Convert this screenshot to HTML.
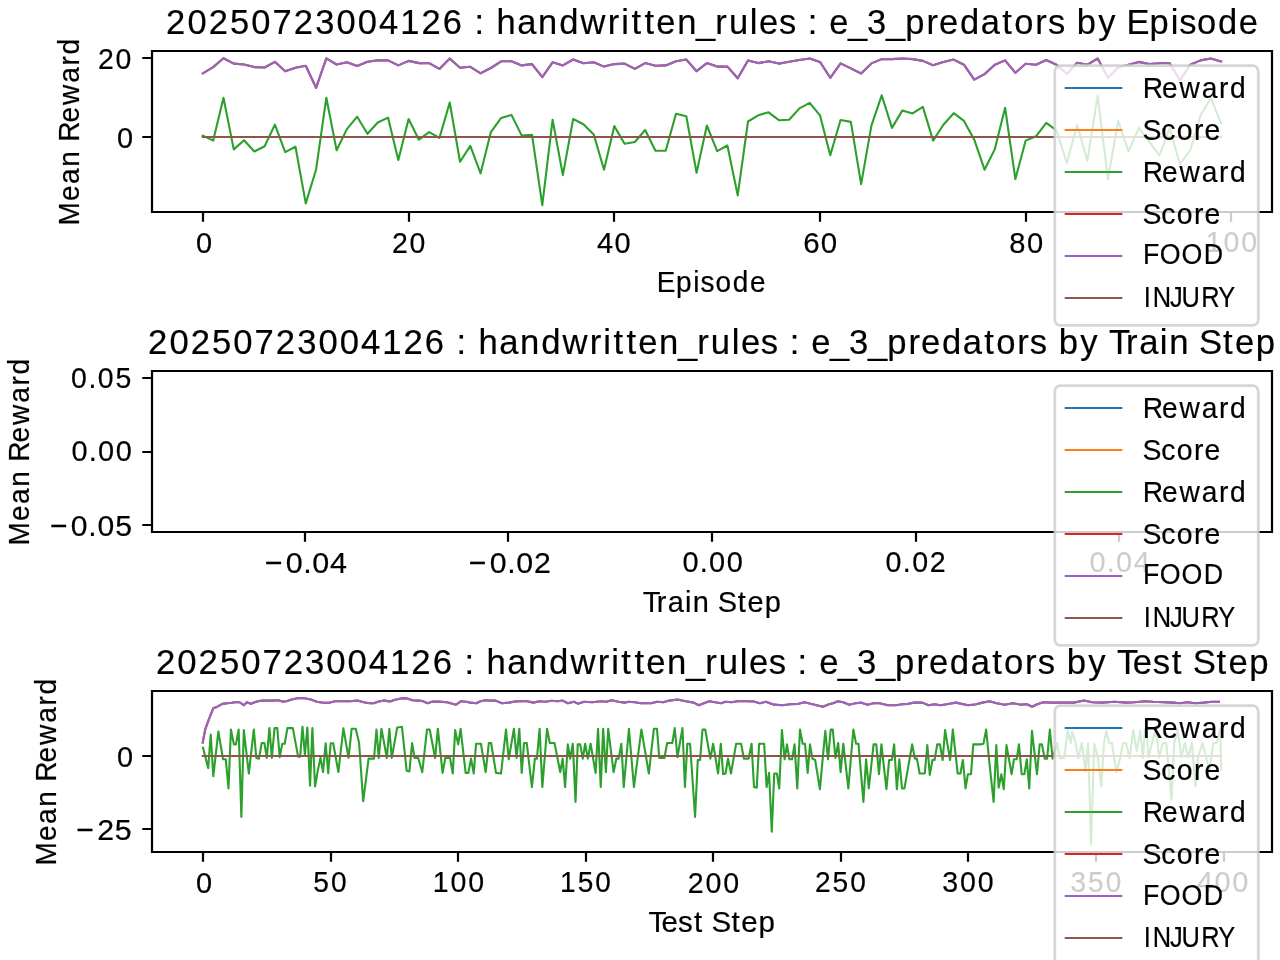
<!DOCTYPE html><html><head><meta charset="utf-8"><style>html,body{margin:0;padding:0;background:#fff;overflow:hidden}svg{display:block;will-change:transform}text{font-family:"Liberation Sans",sans-serif;fill:#000;stroke:#000;stroke-width:0.2px;stroke-linejoin:round}</style></head><body>
<svg width="1280" height="960" viewBox="0 0 1280 960">
<rect width="1280" height="960" fill="#fff"/>
<defs><clipPath id="c0"><rect x="152" y="51" width="1120" height="161"/></clipPath><clipPath id="c1"><rect x="152" y="371" width="1120" height="161"/></clipPath><clipPath id="c2"><rect x="152" y="691" width="1120" height="161"/></clipPath></defs>
<g>
<g clip-path="url(#c0)" fill="none" stroke-width="2.1" stroke-linejoin="round" stroke-linecap="square">
<polyline stroke="#1f77b4" points="202.91,137 1221.09,137"/>
<polyline stroke="#ff7f0e" points="202.91,137 1221.09,137"/>
<polyline stroke="#2ca02c" points="202.91,135.6 213.19,140.6 223.48,97.7 233.76,149.4 244.05,140.2 254.33,151.5 264.62,146.2 274.9,124.6 285.19,152.1 295.47,146.8 305.76,203.4 316.04,169.8 326.33,97.7 336.61,150.3 346.89,129.1 357.18,116.7 367.46,133.8 377.75,122.5 388.03,117.6 398.32,160 408.6,119 418.89,139.7 429.17,132.1 439.46,137.9 449.74,102.5 460.03,161.8 470.31,145.9 480.6,173.3 490.88,132.1 501.16,117.9 511.45,114.9 521.73,135.6 532.02,134.9 542.3,205.2 552.59,119.7 562.87,175.1 573.16,119 583.44,124.3 593.73,134.4 604.01,169.8 614.3,126.1 624.58,143.8 634.87,142 645.15,130 655.43,150.8 665.72,150.8 676,113.7 686.29,116.2 696.57,172.8 706.86,125.5 717.14,151.2 727.43,145.5 737.71,195.4 748,121.5 758.28,115.3 768.57,112.3 778.85,120.2 789.13,119.7 799.42,108.4 809.7,102.8 819.99,115.3 830.27,155.3 840.56,120 850.84,121.9 861.13,184.1 871.41,125.6 881.7,95.3 891.98,127.9 902.27,110.6 912.55,113.4 922.84,106.9 933.12,140.6 943.4,124.7 953.69,113.2 963.97,120.9 974.26,139.7 984.54,169.7 994.83,149.1 1005.11,107.8 1015.4,179.1 1025.68,140.6 1035.97,136.3 1046.25,122.8 1056.54,130.3 1066.82,163.1 1077.11,124.7 1087.39,160.9 1097.67,95.3 1107.96,179.1 1118.24,120.9 1128.53,151.5 1138.81,127.8 1149.1,141.6 1159.38,155.5 1169.67,128.5 1179.95,164.2 1190.24,150.4 1200.52,115.4 1210.81,98.2 1221.09,123.4"/>
<polyline stroke="#d62728" points="202.91,73.3 213.19,67.1 223.48,58.3 233.76,63.6 244.05,64.5 254.33,67.1 264.62,67.5 274.9,61.8 285.19,71.2 295.47,67.7 305.76,65.7 316.04,87.8 326.33,58.3 336.61,64.5 346.89,62.2 357.18,65.9 367.46,61.8 377.75,60.4 388.03,60.4 398.32,65.4 408.6,60.9 418.89,63.1 429.17,63.2 439.46,68.9 449.74,58.6 460.03,67.7 470.31,66.8 480.6,73.3 490.88,68 501.16,61.3 511.45,61.3 521.73,65.4 532.02,64.1 542.3,77.2 552.59,62.3 562.87,65.4 573.16,59.5 583.44,63.2 593.73,62.3 604.01,66.6 614.3,64.1 624.58,63.6 634.87,68.9 645.15,63.1 655.43,65.7 665.72,65.4 676,61.3 686.29,59.5 696.57,71.2 706.86,63.1 717.14,66.6 727.43,66.6 737.71,78.3 748,60.4 758.28,63.1 768.57,61.3 778.85,63.6 789.13,61.8 799.42,60 809.7,58.5 819.99,61.9 830.27,77.8 840.56,63.4 850.84,68.4 861.13,73.5 871.41,63.4 881.7,59.1 891.98,59.1 902.27,58.5 912.55,59.1 922.84,60.9 933.12,65.3 943.4,61.9 953.69,59.6 963.97,64.7 974.26,79.7 984.54,74.1 994.83,64.7 1005.11,60.4 1015.4,72.8 1025.68,63.8 1035.97,64.7 1046.25,60 1056.54,64.7 1066.82,74.1 1077.11,62.8 1087.39,64.7 1097.67,58.5 1107.96,77.8 1118.24,67.5 1128.53,64.7 1138.81,61.9 1149.1,64.1 1159.38,63.2 1169.67,63.2 1179.95,80.3 1190.24,64.7 1200.52,60.4 1210.81,58.5 1221.09,61.5"/>
<polyline stroke="#9467bd" points="202.91,73.3 213.19,67.1 223.48,58.3 233.76,63.6 244.05,64.5 254.33,67.1 264.62,67.5 274.9,61.8 285.19,71.2 295.47,67.7 305.76,65.7 316.04,87.8 326.33,58.3 336.61,64.5 346.89,62.2 357.18,65.9 367.46,61.8 377.75,60.4 388.03,60.4 398.32,65.4 408.6,60.9 418.89,63.1 429.17,63.2 439.46,68.9 449.74,58.6 460.03,67.7 470.31,66.8 480.6,73.3 490.88,68 501.16,61.3 511.45,61.3 521.73,65.4 532.02,64.1 542.3,77.2 552.59,62.3 562.87,65.4 573.16,59.5 583.44,63.2 593.73,62.3 604.01,66.6 614.3,64.1 624.58,63.6 634.87,68.9 645.15,63.1 655.43,65.7 665.72,65.4 676,61.3 686.29,59.5 696.57,71.2 706.86,63.1 717.14,66.6 727.43,66.6 737.71,78.3 748,60.4 758.28,63.1 768.57,61.3 778.85,63.6 789.13,61.8 799.42,60 809.7,58.5 819.99,61.9 830.27,77.8 840.56,63.4 850.84,68.4 861.13,73.5 871.41,63.4 881.7,59.1 891.98,59.1 902.27,58.5 912.55,59.1 922.84,60.9 933.12,65.3 943.4,61.9 953.69,59.6 963.97,64.7 974.26,79.7 984.54,74.1 994.83,64.7 1005.11,60.4 1015.4,72.8 1025.68,63.8 1035.97,64.7 1046.25,60 1056.54,64.7 1066.82,74.1 1077.11,62.8 1087.39,64.7 1097.67,58.5 1107.96,77.8 1118.24,67.5 1128.53,64.7 1138.81,61.9 1149.1,64.1 1159.38,63.2 1169.67,63.2 1179.95,80.3 1190.24,64.7 1200.52,60.4 1210.81,58.5 1221.09,61.5"/>
<polyline stroke="#8c564b" points="202.91,137 1221.09,137"/>
</g>
<path d="M152 51V212M1272 51V212M152 51H1272M152 212H1272" stroke="#000" stroke-width="2.22" stroke-linecap="square" fill="none"/>
<path d="M203 212v9.72M409 212v9.72M614 212v9.72M820 212v9.72M1026 212v9.72M1231 212v9.72M152 137h-9.72M152 58h-9.72" stroke="#000" stroke-width="2.22" fill="none"/>
<text transform="scale(0.9592,1)" x="204.29" y="253.12" font-size="30.2">0</text>
<text transform="scale(0.9419,1)" x="416.08 434.79" y="253.12" font-size="30.2">20</text>
<text transform="scale(0.9595,1)" x="622.1 640.47" y="253.12" font-size="30.2">40</text>
<text transform="scale(0.9757,1)" x="823.23 841.3" y="253.12" font-size="30.2">60</text>
<text transform="scale(0.9643,1)" x="1046.72 1064.99" y="253.12" font-size="30.2">80</text>
<text transform="scale(0.9453,1)" x="1275.6 1294.25 1313.03" y="252.12" font-size="30.2">100</text>
<text transform="scale(0.9592,1)" x="121.92" y="148.12" font-size="30.2">0</text>
<text transform="scale(0.9419,1)" x="103.93 122.65" y="69.12" font-size="30.2">20</text>
<text transform="scale(0.9385,1)" x="699.76 720.24 738.71 746.43 762.38 780.71 799.2" y="291.6" font-size="29.8">Episode</text>
<text transform="translate(78.8,223) rotate(-90) scale(0.9395,1)" x="-2.56 23.45 41.51 59.91 78.15 86.55 107 125.62 149.28 167.71 179.4" y="0" font-size="29.8">Mean Reward</text>
<text transform="scale(0.9687,1)" x="171.44 193.51 215.45 237.51 259.45 281.39 303.33 325.39 347.33 369.27 391.2 413.14 435.08 457.14 478.56 489.85 501.14 512.59 534.04 555.43 577.26 599.39 627.45 641.32 651.85 665.27 677.57 699.06 718.56 738.43 752.48 774.11 783.52 804.06 822.46 833.75 845.04 856.17 875.35 895.11 914.71 934.45 956.51 969.47 990.97 1012.53 1034.72 1046.96 1068.65 1081.76 1100.16 1111.62 1133.82 1153.45 1162.89 1186.72 1208.47 1217.25 1235.75 1257.31 1278.91" y="33.83" font-size="35.6">20250723004126 : handwritten_rules : e_3_predators by Episode</text>
<rect x="1054.8" y="65.65" width="203.5" height="259.65" rx="5.56" ry="5.56" fill="#fff" fill-opacity="0.8" stroke="#ccc" stroke-opacity="0.8" stroke-width="2.778"/>
<path d="M1065.75 88H1121.3" stroke="#1f77b4" stroke-width="2.1" stroke-linecap="square"/>
<path d="M1065.75 130H1121.3" stroke="#ff7f0e" stroke-width="2.1" stroke-linecap="square"/>
<path d="M1065.75 172H1121.3" stroke="#2ca02c" stroke-width="2.1" stroke-linecap="square"/>
<path d="M1065.75 214H1121.3" stroke="#d62728" stroke-width="2.1" stroke-linecap="square"/>
<path d="M1065.75 256H1121.3" stroke="#9467bd" stroke-width="2.1" stroke-linecap="square"/>
<path d="M1065.75 298H1121.3" stroke="#8c564b" stroke-width="2.1" stroke-linecap="square"/>
<text transform="scale(0.9460,1)" x="1207.93 1228.27 1246.74 1270.25 1288.58 1300.17" y="97.6" font-size="29.8">Reward</text>
<text transform="scale(0.9532,1)" x="1198.61 1218.35 1234.42 1252.52 1263.58" y="140.12" font-size="29.8">Score</text>
<text transform="scale(0.9460,1)" x="1207.93 1228.27 1246.74 1270.25 1288.58 1300.17" y="181.6" font-size="29.8">Reward</text>
<text transform="scale(0.9532,1)" x="1198.61 1218.35 1234.42 1252.52 1263.58" y="224.12" font-size="29.8">Score</text>
<text transform="scale(0.8992,1)" x="1271.27 1289.85 1314.04 1338.79" y="264.12" font-size="29.8">FOOD</text>
<text transform="scale(0.8537,1)" x="1339.8 1350.21 1370.45 1383.92 1407.03 1426.99" y="306.75" font-size="29.8">INJURY</text>
</g>
<g>
<g clip-path="url(#c1)" fill="none" stroke-width="2.1" stroke-linejoin="round" stroke-linecap="square">
</g>
<path d="M152 371V532M1272 371V532M152 371H1272M152 532H1272" stroke="#000" stroke-width="2.22" stroke-linecap="square" fill="none"/>
<path d="M305 532v9.72M508 532v9.72M712 532v9.72M916 532v9.72M1119 532v9.72M152 525h-9.72M152 452h-9.72M152 378h-9.72" stroke="#000" stroke-width="2.22" fill="none"/>
<text transform="scale(1.0099,1)" x="262.18 282.85 300.25 309.21 326.79" y="573.12" font-size="30.2">−0.04</text>
<text transform="scale(1.0029,1)" x="467.5 488.31 505.8 514.86 532.55" y="573.12" font-size="30.2">−0.02</text>
<text transform="scale(0.9582,1)" x="712.23 730.35 740.02 758.54" y="572.12" font-size="30.2">0.00</text>
<text transform="scale(0.9474,1)" x="934.67 952.94 962.78 981.51" y="572.12" font-size="30.2">0.02</text>
<text transform="scale(0.9584,1)" x="1136.72 1154.83 1164.5 1183.02" y="572.12" font-size="30.2">0.04</text>
<text transform="scale(0.9977,1)" x="50.01 70.93 88.49 97.62 115.41" y="535.62" font-size="30.2">−0.05</text>
<text transform="scale(0.9582,1)" x="74.58 92.69 102.36 120.89" y="461.12" font-size="30.2">0.00</text>
<text transform="scale(0.9412,1)" x="75.54 93.91 103.83 122.69" y="388.12" font-size="30.2">0.05</text>
<text transform="scale(0.9729,1)" x="660.63 675.02 686.4 704.07 712.14 729.89 737.74 758.19 768.41 786.16" y="611.6" font-size="29.8">Train Step</text>
<text transform="translate(28.8,543) rotate(-90) scale(0.9395,1)" x="-2.56 23.45 41.51 59.91 78.15 86.55 107 125.62 149.28 167.71 179.4" y="0" font-size="29.8">Mean Reward</text>
<text transform="scale(0.9733,1)" x="152.09 174.05 195.89 217.85 239.68 261.52 283.35 305.31 327.14 348.98 370.81 392.64 414.48 436.44 457.78 469.02 480.25 491.62 512.97 534.26 555.99 578 605.96 619.78 630.25 643.6 655.83 677.21 696.62 716.41 730.38 751.93 761.27 781.72 800.05 811.29 822.52 833.58 852.67 872.34 891.84 911.49 933.46 946.34 967.74 989.2 1011.3 1023.47 1045.07 1058.1 1076.43 1087.82 1109.92 1129.48 1139.48 1156.93 1170.54 1191.69 1201.34 1222.59 1232.01 1256.61 1268.83 1290.23" y="353.83" font-size="35.6">20250723004126 : handwritten_rules : e_3_predators by Train Step</text>
<rect x="1054.8" y="385.65" width="203.5" height="259.65" rx="5.56" ry="5.56" fill="#fff" fill-opacity="0.8" stroke="#ccc" stroke-opacity="0.8" stroke-width="2.778"/>
<path d="M1065.75 408H1121.3" stroke="#1f77b4" stroke-width="2.1" stroke-linecap="square"/>
<path d="M1065.75 450H1121.3" stroke="#ff7f0e" stroke-width="2.1" stroke-linecap="square"/>
<path d="M1065.75 492H1121.3" stroke="#2ca02c" stroke-width="2.1" stroke-linecap="square"/>
<path d="M1065.75 534H1121.3" stroke="#d62728" stroke-width="2.1" stroke-linecap="square"/>
<path d="M1065.75 576H1121.3" stroke="#9467bd" stroke-width="2.1" stroke-linecap="square"/>
<path d="M1065.75 618H1121.3" stroke="#8c564b" stroke-width="2.1" stroke-linecap="square"/>
<text transform="scale(0.9460,1)" x="1207.93 1228.27 1246.74 1270.25 1288.58 1300.17" y="417.6" font-size="29.8">Reward</text>
<text transform="scale(0.9532,1)" x="1198.61 1218.35 1234.42 1252.52 1263.58" y="460.12" font-size="29.8">Score</text>
<text transform="scale(0.9460,1)" x="1207.93 1228.27 1246.74 1270.25 1288.58 1300.17" y="501.6" font-size="29.8">Reward</text>
<text transform="scale(0.9532,1)" x="1198.61 1218.35 1234.42 1252.52 1263.58" y="544.12" font-size="29.8">Score</text>
<text transform="scale(0.8992,1)" x="1271.27 1289.85 1314.04 1338.79" y="584.12" font-size="29.8">FOOD</text>
<text transform="scale(0.8537,1)" x="1339.8 1350.21 1370.45 1383.92 1407.03 1426.99" y="626.75" font-size="29.8">INJURY</text>
</g>
<g>
<g clip-path="url(#c2)" fill="none" stroke-width="2.1" stroke-linejoin="round" stroke-linecap="square">
<polyline stroke="#1f77b4" points="202.91,756 1221.09,756"/>
<polyline stroke="#ff7f0e" points="202.91,756 1221.09,756"/>
<polyline stroke="#2ca02c" points="203.01,747.78 208.16,768.1 210.74,734.63 213.31,776.23 218.33,731.52 223.07,759.3 225.78,759.3 228.49,788.43 230.93,729.49 233.91,744.39 235.94,744.39 238.65,729.49 241.36,816.88 243.8,730.16 248.81,773.52 253.83,729.49 256.27,757.94 258.98,758.62 261.69,743.04 264.4,743.04 266.83,757.94 269.41,728.13 271.85,757.94 274.56,728.13 277.27,728.13 279.71,757.26 282.28,743.71 284.72,743.71 287.43,728.13 292.85,728.13 298.13,756.59 300.16,756.59 302.47,726.78 304.91,754.55 307.34,727.45 310.05,785.72 312.36,728.13 315.07,786.4 317.91,770.14 320.49,757.8 323.06,772.03 325.64,743.31 328.21,773.12 330.65,743.31 333.22,743.31 338.37,772.03 343.39,728.4 345.96,743.04 348.54,757.8 351.65,728.81 355.72,728.81 359.11,743.04 363.17,801.3 368.59,758.62 374.01,758.62 376.45,729.49 378.75,757.94 381.46,728.81 386.88,757.94 389.34,728.81 391.78,757.94 397.2,727.45 401.94,726.78 406.68,770.81 409.39,771.49 412.1,743.04 414.54,757.94 418.2,757.94 422.26,772.17 427.01,729.49 429.72,729.49 435.14,757.94 437.85,728.81 442.59,772.85 445.3,757.94 450.04,757.94 452.75,773.52 455.19,730.16 458.17,744.39 460.61,728.81 465.62,772.85 468.33,772.85 471.04,758.62 473.75,773.52 476.06,743.71 480.93,743.71 485.69,772.17 488.81,743.04 491.11,743.04 495.99,772.85 501,773.52 506.02,729.49 508.73,759.3 513.88,728.81 516.59,757.94 519.3,728.81 521.73,772.85 524.04,743.04 526.75,743.04 531.9,787.07 534.88,758.62 536.91,758.62 539.62,728.81 542.33,787.07 547.07,728.81 549.78,743.04 554.53,743.04 560.22,772.17 562.66,758.62 565.09,787.07 567.8,744.39 570.11,758.62 572.82,743.71 575.53,801.98 577.71,744.39 580.15,744.39 582.86,758.62 585.16,743.71 587.87,758.62 590.58,743.71 595.6,772.85 598.04,728.81 600.75,787.07 603.18,728.81 605.89,772.17 608.2,728.81 613.62,772.17 616.33,758.62 618.63,758.62 621.34,743.71 623.78,787.07 628.93,728.81 633.94,787.07 641.4,729.49 648.85,773.52 653.86,728.81 656.98,728.81 659.28,757.94 664.43,757.94 667.14,743.04 672.29,743.04 674.74,728.13 677.45,757.26 682.47,728.13 684.91,787.07 687.34,743.71 690.05,743.71 695.07,816.88 697.78,759.97 700.08,759.97 702.52,729.49 705.23,729.49 710.38,758.62 713.09,743.71 718.1,773.52 720.81,743.71 723.12,774.2 725.56,773.52 727.99,758.62 730.98,773.52 736.12,743.71 741.14,743.71 743.85,758.62 748.59,758.62 751.57,743.71 754.01,787.07 756.72,787.75 759.16,743.71 764.17,743.71 766.63,787.07 769.07,772.85 771.78,831.79 774.21,773.52 776.92,773.52 779.23,788.43 781.94,730.16 784.65,759.3 786.95,744.39 789.39,759.3 792.1,759.3 794.54,744.39 797.25,788.43 799.96,729.49 802.67,743.71 804.97,743.71 807.68,772.85 809.99,744.39 812.43,758.62 815.14,759.97 819.88,789.11 825.3,730.84 828.01,759.3 830.72,729.49 832.75,729.49 835.46,757.94 838.17,743.04 840.61,772.17 843.32,743.71 848.33,788.43 853.35,729.49 856.06,743.71 858.5,743.71 863.39,801.98 866.1,759.3 868.81,788.43 873.55,744.39 876.26,744.39 878.97,774.2 881.41,744.39 886.42,789.11 889.13,759.97 891.84,759.97 894.15,744.39 896.86,789.11 899.3,759.3 902.01,788.43 904.44,788.43 912.17,744.39 914.88,758.62 916.91,758.62 919.62,773.52 924.77,773.52 927.34,745.07 929.78,774.88 932.49,759.97 934.53,759.97 937.24,744.39 939.95,744.39 942.66,759.97 945.09,730.16 950.11,759.97 952.82,729.49 957.71,773.52 960.42,773.52 962.86,759.97 965.57,788.43 967.87,774.2 970.99,774.2 973.29,744.39 975.33,744.39 980.75,744.39 983.46,743.71 986.17,729.49 988.88,757.94 993.62,801.98 996.33,745.07 998.63,787.75 1001.34,774.2 1003.78,789.11 1006.49,745.07 1011.64,774.2 1013.94,759.3 1016.65,759.3 1018.96,744.39 1021.67,774.2 1024.38,774.2 1026.82,759.3 1029.25,788.43 1031.96,730.84 1036.98,774.2 1039.69,744.39 1041.99,744.39 1044.7,758.62 1047.14,758.62 1049.85,729.49 1052.56,758.62 1057.08,743.1 1059.73,758.14 1064.16,758.14 1067.7,730.71 1070.88,743.1 1072.12,731.59 1075.66,743.1 1078.32,758.14 1081.86,743.1 1085.4,771.42 1088.05,743.1 1091.06,843.98 1094.25,743.98 1097.79,757.26 1101.33,786.46 1103.98,743.1 1106.28,730.71 1109.29,743.1 1111.95,743.1 1116.37,772.3 1119.91,759.03 1122.92,743.1 1126.11,743.1 1129.65,758.14 1133.19,729.82 1136.73,751.06 1140.27,730.71 1142.92,758.14 1145,728.94 1146.46,730.71 1148.54,757.26 1152.08,743.1 1155.62,728.94 1159.16,757.26 1162.7,743.1 1166.24,743.1 1171.55,799.73 1174.2,743.1 1177.74,729.82 1181.28,757.26 1184.82,743.1 1188.36,757.26 1191.9,743.1 1195.44,786.46 1198.1,757.26 1202.52,743.1 1206.06,757.26 1209.6,770.53 1213.14,743.1 1216.68,743.1 1220.22,728.94 1221.11,769.65"/>
<polyline stroke="#d62728" points="202.72,742.44 205.16,729.64 209.22,718.47 213.28,708.31 217.34,706.69 222.42,703.84 227.5,703.23 231.56,702.83 235.63,702.22 239.69,702.22 243.75,705.27 246.8,702.22 250.86,703.84 255.94,701.81 262.03,700.59 268.13,700.59 273.2,700.59 278.28,700.19 282.35,701.61 286.41,701.2 292.5,699.17 297.58,698.16 304.69,698.16 310.78,699.58 316.88,701.81 322.97,702.63 329.06,702.83 335.16,701.2 341.25,701.2 349.38,701.2 357.5,700.59 363.6,702.22 369.69,703.23 373.75,703.23 377.82,701.81 383.91,700.59 390,701.41 395.08,699.78 402.19,698.16 407.27,698.56 412.35,700.19 418.44,700.59 422.5,701 427.58,703.23 432.66,701.61 438.75,701.61 446.88,702.22 456.09,704.66 461.17,701.2 466.25,701.81 470.31,702.63 476.41,703.23 480.47,701.2 485.55,700.19 490.63,700.59 495.7,700.59 501.8,703.23 508.91,702.63 515,701.41 521.09,701.2 527.19,701.2 533.28,702.63 539.38,701.2 545.47,701.81 551.56,700.8 557.66,701.2 562.74,700.59 567.81,703.23 573.91,701.81 577.97,703.64 584.06,701.81 592.19,702.22 601.33,701.2 606.41,701.81 611.49,700.19 618.6,701.81 624.69,702.63 628.75,701.81 634.85,702.22 640.94,703.23 651.1,703.23 657.19,701.81 663.28,702.22 669.38,700.59 677.5,699.58 685.63,701.2 693.75,702.63 698.83,705.27 703.91,703.23 709.06,701.2 715.16,702.22 721.25,703.23 725.31,701.81 731.41,702.22 737.5,701.2 745.63,701.2 753.75,701.41 759.84,703.23 765.94,701.81 774.06,704.66 782.19,705.27 790.31,704.25 798.44,703.84 804.53,702.22 810.63,703.84 816.72,705.27 822.81,706.69 828.91,704.25 832.97,703.23 838.05,701.2 843.13,702.22 849.22,704.66 855.31,703.23 861.41,702.63 867.5,704.66 873.6,703.23 879.69,703.23 887.82,705.27 895.94,705.27 902.03,704.25 908.13,703.84 914.22,702.63 922.35,702.63 928.44,705.27 934.53,704.25 940.63,705.27 946.72,704.25 955.86,702.63 968.13,705.27 976.25,704.25 982.34,702.63 989.45,701.2 996.56,703.23 1004.69,704.66 1012.81,703.23 1020.94,704.66 1027.03,704.25 1032.11,706.69 1037.19,704.25 1043.28,702.22 1051.41,702.63 1061.56,702.63 1073.75,702.63 1083.91,700.59 1092.03,702.22 1102.19,702.63 1114.38,701.81 1126.57,702.63 1134.69,702.22 1144.85,701.2 1152.97,701.81 1163.13,702.22 1173.28,702.63 1179.38,703.23 1187.5,702.22 1195.63,703.23 1203.75,702.63 1211.88,701.81 1218.99,701.81"/>
<polyline stroke="#9467bd" points="202.72,742.44 205.16,729.64 209.22,718.47 213.28,708.31 217.34,706.69 222.42,703.84 227.5,703.23 231.56,702.83 235.63,702.22 239.69,702.22 243.75,705.27 246.8,702.22 250.86,703.84 255.94,701.81 262.03,700.59 268.13,700.59 273.2,700.59 278.28,700.19 282.35,701.61 286.41,701.2 292.5,699.17 297.58,698.16 304.69,698.16 310.78,699.58 316.88,701.81 322.97,702.63 329.06,702.83 335.16,701.2 341.25,701.2 349.38,701.2 357.5,700.59 363.6,702.22 369.69,703.23 373.75,703.23 377.82,701.81 383.91,700.59 390,701.41 395.08,699.78 402.19,698.16 407.27,698.56 412.35,700.19 418.44,700.59 422.5,701 427.58,703.23 432.66,701.61 438.75,701.61 446.88,702.22 456.09,704.66 461.17,701.2 466.25,701.81 470.31,702.63 476.41,703.23 480.47,701.2 485.55,700.19 490.63,700.59 495.7,700.59 501.8,703.23 508.91,702.63 515,701.41 521.09,701.2 527.19,701.2 533.28,702.63 539.38,701.2 545.47,701.81 551.56,700.8 557.66,701.2 562.74,700.59 567.81,703.23 573.91,701.81 577.97,703.64 584.06,701.81 592.19,702.22 601.33,701.2 606.41,701.81 611.49,700.19 618.6,701.81 624.69,702.63 628.75,701.81 634.85,702.22 640.94,703.23 651.1,703.23 657.19,701.81 663.28,702.22 669.38,700.59 677.5,699.58 685.63,701.2 693.75,702.63 698.83,705.27 703.91,703.23 709.06,701.2 715.16,702.22 721.25,703.23 725.31,701.81 731.41,702.22 737.5,701.2 745.63,701.2 753.75,701.41 759.84,703.23 765.94,701.81 774.06,704.66 782.19,705.27 790.31,704.25 798.44,703.84 804.53,702.22 810.63,703.84 816.72,705.27 822.81,706.69 828.91,704.25 832.97,703.23 838.05,701.2 843.13,702.22 849.22,704.66 855.31,703.23 861.41,702.63 867.5,704.66 873.6,703.23 879.69,703.23 887.82,705.27 895.94,705.27 902.03,704.25 908.13,703.84 914.22,702.63 922.35,702.63 928.44,705.27 934.53,704.25 940.63,705.27 946.72,704.25 955.86,702.63 968.13,705.27 976.25,704.25 982.34,702.63 989.45,701.2 996.56,703.23 1004.69,704.66 1012.81,703.23 1020.94,704.66 1027.03,704.25 1032.11,706.69 1037.19,704.25 1043.28,702.22 1051.41,702.63 1061.56,702.63 1073.75,702.63 1083.91,700.59 1092.03,702.22 1102.19,702.63 1114.38,701.81 1126.57,702.63 1134.69,702.22 1144.85,701.2 1152.97,701.81 1163.13,702.22 1173.28,702.63 1179.38,703.23 1187.5,702.22 1195.63,703.23 1203.75,702.63 1211.88,701.81 1218.99,701.81"/>
<polyline stroke="#8c564b" points="202.91,756 1221.09,756"/>
</g>
<path d="M152 691V852M1272 691V852M152 691H1272M152 852H1272" stroke="#000" stroke-width="2.22" stroke-linecap="square" fill="none"/>
<path d="M203 852v9.72M331 852v9.72M458 852v9.72M586 852v9.72M713 852v9.72M841 852v9.72M968 852v9.72M1096 852v9.72M1224 852v9.72M152 829h-9.72M152 756h-9.72" stroke="#000" stroke-width="2.22" fill="none"/>
<text transform="scale(0.9592,1)" x="204.29" y="893.12" font-size="30.2">0</text>
<text transform="scale(0.9320,1)" x="336.23 355.14" y="892.12" font-size="30.2">50</text>
<text transform="scale(0.9453,1)" x="457.89 476.53 495.31" y="892.12" font-size="30.2">100</text>
<text transform="scale(0.9266,1)" x="604.39 623.42 642.44" y="892.12" font-size="30.2">150</text>
<text transform="scale(0.9477,1)" x="725.78 744.37 763.1" y="893.12" font-size="30.2">200</text>
<text transform="scale(0.9293,1)" x="876.99 895.96 914.93" y="892.12" font-size="30.2">250</text>
<text transform="scale(0.9464,1)" x="995.61 1014.36 1033.12" y="892.12" font-size="30.2">300</text>
<text transform="scale(0.9282,1)" x="1153.18 1172.3 1191.29" y="892.12" font-size="30.2">350</text>
<text transform="scale(0.9594,1)" x="1247.55 1265.92 1284.42" y="892.12" font-size="30.2">400</text>
<text transform="scale(1.0035,1)" x="76.08 96.88 114.44" y="840.12" font-size="30.2">−25</text>
<text transform="scale(0.9592,1)" x="121.92" y="766.62" font-size="30.2">0</text>
<text transform="scale(0.9896,1)" x="655.4 668.53 685.22 701.38 711.33 718.94 739.15 749.12 766.58" y="932.12" font-size="29.8">Test Step</text>
<text transform="translate(55.8,863) rotate(-90) scale(0.9395,1)" x="-2.56 23.45 41.51 59.91 78.15 86.55 107 125.62 149.28 167.71 179.4" y="0" font-size="29.8">Mean Reward</text>
<text transform="scale(0.9757,1)" x="159.89 181.79 203.57 225.48 247.26 269.04 290.81 312.72 334.5 356.28 378.06 399.84 421.62 443.52 464.82 476.03 487.24 498.57 519.86 541.1 562.77 584.72 612.63 626.42 636.86 650.18 662.36 683.69 703.05 722.8 736.73 758.24 767.54 787.94 806.23 817.45 828.65 839.67 858.71 878.33 897.78 917.38 939.31 952.15 973.49 994.9 1016.96 1029.08 1050.64 1063.63 1081.93 1093.28 1115.32 1134.84 1144.8 1160.97 1181.37 1200.93 1212.98 1222.36 1246.92 1259.1 1280.44" y="673.83" font-size="35.6">20250723004126 : handwritten_rules : e_3_predators by Test Step</text>
<rect x="1054.8" y="705.65" width="203.5" height="259.65" rx="5.56" ry="5.56" fill="#fff" fill-opacity="0.8" stroke="#ccc" stroke-opacity="0.8" stroke-width="2.778"/>
<path d="M1065.75 728H1121.3" stroke="#1f77b4" stroke-width="2.1" stroke-linecap="square"/>
<path d="M1065.75 770H1121.3" stroke="#ff7f0e" stroke-width="2.1" stroke-linecap="square"/>
<path d="M1065.75 812H1121.3" stroke="#2ca02c" stroke-width="2.1" stroke-linecap="square"/>
<path d="M1065.75 854H1121.3" stroke="#d62728" stroke-width="2.1" stroke-linecap="square"/>
<path d="M1065.75 896H1121.3" stroke="#9467bd" stroke-width="2.1" stroke-linecap="square"/>
<path d="M1065.75 938H1121.3" stroke="#8c564b" stroke-width="2.1" stroke-linecap="square"/>
<text transform="scale(0.9460,1)" x="1207.93 1228.27 1246.74 1270.25 1288.58 1300.17" y="737.6" font-size="29.8">Reward</text>
<text transform="scale(0.9532,1)" x="1198.61 1218.35 1234.42 1252.52 1263.58" y="780.12" font-size="29.8">Score</text>
<text transform="scale(0.9460,1)" x="1207.93 1228.27 1246.74 1270.25 1288.58 1300.17" y="821.6" font-size="29.8">Reward</text>
<text transform="scale(0.9532,1)" x="1198.61 1218.35 1234.42 1252.52 1263.58" y="864.12" font-size="29.8">Score</text>
<text transform="scale(0.8992,1)" x="1271.27 1289.85 1314.04 1338.79" y="905.12" font-size="29.8">FOOD</text>
<text transform="scale(0.8537,1)" x="1339.8 1350.21 1370.45 1383.92 1407.03 1426.99" y="946.75" font-size="29.8">INJURY</text>
</g>
</svg></body></html>
